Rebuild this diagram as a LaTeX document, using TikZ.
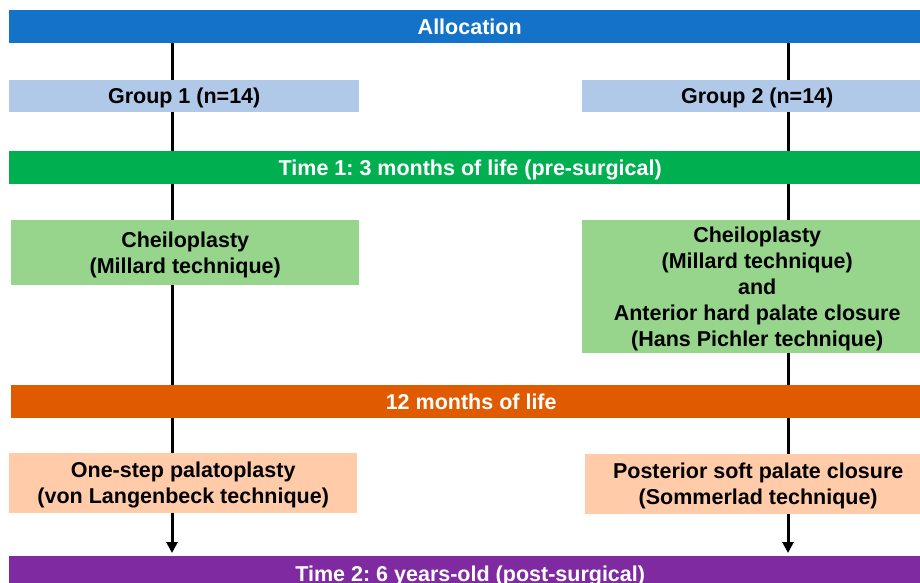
\documentclass[tikz,border=0pt]{standalone}
\usepackage{fontspec}
\setmainfont{Liberation Sans}
\frenchspacing
\usetikzlibrary{arrows.meta}
\definecolor{cAlloc}{HTML}{1473C9}
\definecolor{cGroup}{HTML}{B0C9E9}
\definecolor{cTimeA}{HTML}{00B050}
\definecolor{cGreenBox}{HTML}{97D58D}
\definecolor{cOrange}{HTML}{E05A00}
\definecolor{cPeach}{HTML}{FFCBA8}
\definecolor{cPurple}{HTML}{7F2AA1}
\newcommand{\ctext}[1]{\raisebox{-2.5pt}[\height][\depth]{\setlength{\tabcolsep}{0pt}\begin{tabular}{c}#1\end{tabular}}}
\tikzset{
  blk/.style={rectangle, inner sep=0pt, anchor=north west,
    font=\bfseries\fontsize{21.5}{26}\selectfont},
  bar/.style={blk, text=white},
  box/.style={blk, text=black},
  conn/.style={line width=3pt, black},
  arr/.style={conn, -{Triangle[length=11pt,width=11pt]}}
}
\begin{document}
\begin{tikzpicture}[x=1pt,y=-1pt]
\useasboundingbox[fill=white] (0,0) rectangle (920,583);
\coordinate (L) at (172,0);
\coordinate (R) at (788,0);
% bars
\node[bar, fill=cAlloc, minimum width=921pt, minimum height=33pt] (alloc) at (9,10) {\ctext{Allocation}};
\node[bar, fill=cTimeA, minimum width=922pt, minimum height=33pt] (t1) at (9,151) {\ctext{Time 1: 3 months of life (pre-surgical)}};
\node[bar, fill=cOrange, minimum width=920pt, minimum height=33pt] (m12) at (11,385) {\ctext{12 months of life}};
\node[bar, fill=cPurple, minimum width=922pt, minimum height=36pt] (t2) at (9,556) {\ctext{Time 2: 6 years-old (post-surgical)}};
% group boxes
\node[box, fill=cGroup, minimum width=350pt, minimum height=32pt] (g1) at (9,80) {\ctext{Group 1 (n=14)}};
\node[box, fill=cGroup, minimum width=350pt, minimum height=32pt] (g2) at (582,80) {\ctext{Group 2 (n=14)}};
% cheiloplasty
\node[box, fill=cGreenBox, minimum width=348pt, minimum height=65pt] (c1) at (11,220) {\ctext{Cheiloplasty\\(Millard technique)}};
\node[box, fill=cGreenBox, minimum width=350pt, minimum height=133pt] (c2) at (582,220) {\ctext{Cheiloplasty\\(Millard technique)\\and\\Anterior hard palate closure\\(Hans Pichler technique)}};
% palate
\node[box, fill=cPeach, minimum width=348pt, minimum height=60pt] (p1) at (9,453) {\ctext{One-step palatoplasty\\(von Langenbeck technique)}};
\node[box, fill=cPeach, minimum width=346pt, minimum height=60pt] (p2) at (585,454) {\ctext{Posterior soft palate closure\\(Sommerlad technique)}};
% connectors left
\draw[conn] (alloc.south -| L) -- (g1.north -| L);
\draw[conn] (g1.south -| L) -- (t1.north -| L);
\draw[conn] (t1.south -| L) -- (c1.north -| L);
\draw[conn] (c1.south -| L) -- (m12.north -| L);
\draw[conn] (m12.south -| L) -- (p1.north -| L);
\draw[arr] (p1.south -| L) -- ([yshift=3pt]t2.north -| L);
% connectors right
\draw[conn] (alloc.south -| R) -- (g2.north -| R);
\draw[conn] (g2.south -| R) -- (t1.north -| R);
\draw[conn] (t1.south -| R) -- (c2.north -| R);
\draw[conn] (c2.south -| R) -- (m12.north -| R);
\draw[conn] (m12.south -| R) -- (p2.north -| R);
\draw[arr] (p2.south -| R) -- ([yshift=3pt]t2.north -| R);
\end{tikzpicture}
\end{document}
